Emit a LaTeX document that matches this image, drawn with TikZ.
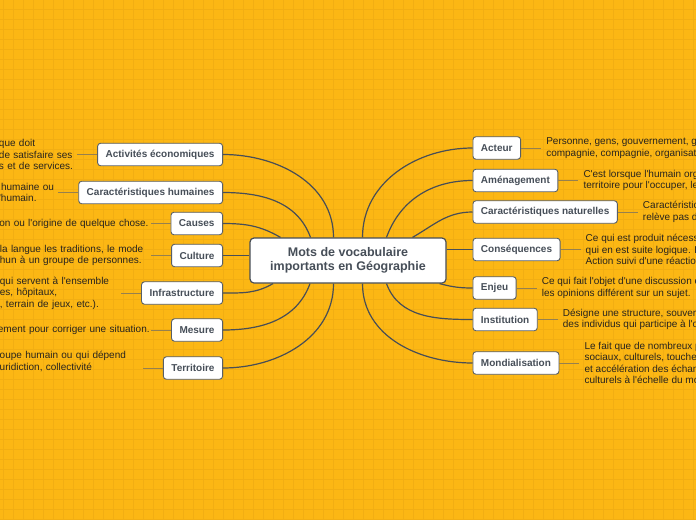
\documentclass[tikz,border=0pt]{standalone}
\usepackage{fontspec}
\setmainfont{Liberation Sans}[Ligatures=TeXOff]
\usepackage{tikz}
\usetikzlibrary{positioning}

\definecolor{bgcol}{RGB}{252,183,20}
\definecolor{gridcol}{RGB}{242,174,19}
\definecolor{boxline}{RGB}{88,95,102}
\definecolor{boxtext}{RGB}{70,78,88}
\definecolor{branchcol}{RGB}{72,78,86}
\definecolor{leafcol}{RGB}{150,128,78}
\definecolor{desctext}{RGB}{40,36,30}

\begin{document}
\begin{tikzpicture}[
  x=1pt, y=-1pt,
  node distance = 20pt,
  topic/.style = {draw=boxline, fill=white, rounded corners=3pt, line width=0.9pt,
                  minimum height=22.5pt, inner xsep=8pt, text=boxtext,
                  font=\fontsize{10}{12}\selectfont\bfseries},
  root/.style  = {draw=branchcol, fill=white, rounded corners=4pt, line width=1.2pt,
                  minimum width=196pt, minimum height=45pt, align=center, text=boxtext,
                  font=\fontsize{12.5}{13.5}\selectfont\bfseries},
  desc/.style  = {font=\fontsize{10}{11.5}\selectfont, text=desctext, align=left,
                  inner ysep=0pt, inner xsep=5pt},
  ldesc/.style = {desc, inner xsep=0pt, text width=#1},
  branch/.style = {draw=branchcol, line width=1.2pt},
  leaf/.style  = {draw=leafcol, line width=1pt}
]
  % background with grid
  \useasboundingbox (0,0) rectangle (696,520);
  \fill[bgcol] (0,0) rectangle (696,520);
  \foreach \gx in {3,13,...,693}
    \draw[gridcol, line width=0.6pt] (\gx,0) -- (\gx,520);
  \foreach \gy in {9,19,...,519}
    \draw[gridcol, line width=0.6pt] (0,\gy) -- (696,\gy);

  \node[root] (mots) at (348,260.5) {Mots de vocabulaire\\importants en Géographie};

  % left side
  \node[topic, anchor=east] (eco) at (223,154.5) {Activités économiques};
  \node[topic, anchor=east] (hum) at (223,192.5) {Caractéristiques humaines};
  \node[topic, anchor=east] (cau) at (223,223.5) {Causes};
  \node[topic, anchor=east] (cul) at (223,255.5) {Culture};
  \node[topic, anchor=east] (inf) at (223,293)   {Infrastructure};
  \node[topic, anchor=east] (mes) at (223,330)   {Mesure};
  \node[topic, anchor=east] (ter) at (223,368)   {Territoire};

  \node[ldesc=78pt, left=of eco] (eco-d) {que doit\\de satisfaire ses\\s et de services.};
  \node[ldesc=59pt, left=of hum] (hum-d) {\hspace*{2pt}humaine ou\\'humain.};
  \node[ldesc=151pt, left=of cau] (cau-d) {on ou l'origine de quelque chose.};
  \node[ldesc=151pt, left=of cul] (cul-d) {la langue les traditions, le mode\\hun à un groupe de personnes.};
  \node[ldesc=121pt, left=of inf] (inf-d) {qui servent à l'ensemble\\es, hôpitaux,\\, terrain de jeux, etc.).};
  \node[ldesc=153pt, left=of mes] (mes-d) {ement pour corriger une situation.};
  \node[ldesc=143pt, left=of ter, yshift=6.5pt] (ter-d) {oupe humain ou qui dépend\\uridiction, collectivité};

  % right side
  \node[topic, anchor=west] (act) at (472.5,148)   {Acteur};
  \node[topic, anchor=west] (ame) at (472.5,180.5) {Aménagement};
  \node[topic, anchor=west] (nat) at (472.5,212)   {Caractéristiques naturelles};
  \node[topic, anchor=west] (con) at (472.5,249.5) {Conséquences};
  \node[topic, anchor=west] (enj) at (472.5,288)   {Enjeu};
  \node[topic, anchor=west] (ins) at (472.5,319.5) {Institution};
  \node[topic, anchor=west] (mon) at (472.5,363)   {Mondialisation};

  \node[desc, right=of act] (act-d) {Personne, gens, gouvernement, g\\compagnie, compagnie, organisat};
  \node[desc, right=of ame] (ame-d) {C'est lorsque l'humain org\\territoire pour l'occuper, le};
  \node[desc, right=of nat] (nat-d) {Caractéristic\\relève pas d};
  \node[desc, right=of con] (con-d) {Ce qui est produit nécess\\qui en est suite logique. L\\Action suivi d'une réactio};
  \node[desc, right=of enj] (enj-d) {Ce qui fait l'objet d'une discussion e\\les opinions différent sur un sujet.};
  \node[desc, right=of ins] (ins-d) {Désigne une structure, souver\\des individus qui participe à l'o};
  \node[desc, right=of mon] (mon-d) {Le fait que de nombreux p\\sociaux, culturels, touche\\et accélération des échan\\culturels à l'échelle du mo};

  % branches from the centre
  \draw[branch] ([xshift=-14.5pt]mots.north) to[out=90,in=0]   (eco.east);
  \draw[branch] ([xshift=-37.5pt]mots.north) to[out=110,in=0]  (hum.east);
  \draw[branch] ([xshift=-67.5pt]mots.north) to[out=150,in=0]  (cau.east);
  \draw[branch] (cul.east) -- (cul.east -| mots.west);
  \draw[branch] ([xshift=-75pt]mots.south)   to[out=210,in=0]  (inf.east);
  \draw[branch] ([xshift=-38pt]mots.south)   to[out=250,in=0]  (mes.east);
  \draw[branch] ([xshift=-14.5pt]mots.south) to[out=270,in=0]  (ter.east);
  \draw[branch] ([xshift=14.5pt]mots.north)  to[out=90,in=180] (act.west);
  \draw[branch] ([xshift=38.5pt]mots.north)  to[out=70,in=180] (ame.west);
  \draw[branch] ([xshift=64.5pt]mots.north)  to[out=30,in=180] (nat.west);
  \draw[branch] (con.west -| mots.east) -- (con.west);
  \draw[branch] ([xshift=-7pt]mots.south east) to[out=-15,in=180] (enj.west);
  \draw[branch] ([xshift=38.5pt]mots.south)  to[out=-70,in=180] (ins.west);
  \draw[branch] ([xshift=14.5pt]mots.south)  to[out=-90,in=180] (mon.west);

  % short links to the definitions
  \draw[leaf] (eco.west) -- (eco.west -| eco-d.east);
  \draw[leaf] (hum.west) -- (hum.west -| hum-d.east);
  \draw[leaf] (cau.west) -- (cau.west -| cau-d.east);
  \draw[leaf] (cul.west) -- (cul.west -| cul-d.east);
  \draw[leaf] (inf.west) -- (inf.west -| inf-d.east);
  \draw[leaf] (mes.west) -- (mes.west -| mes-d.east);
  \draw[leaf] (ter.west) -- (ter.west -| ter-d.east);
  \draw[leaf] (act.east) -- (act-d.west);
  \draw[leaf] (ame.east) -- (ame-d.west);
  \draw[leaf] (nat.east) -- (nat-d.west);
  \draw[leaf] (con.east) -- (con-d.west);
  \draw[leaf] (enj.east) -- (enj-d.west);
  \draw[leaf] (ins.east) -- (ins-d.west);
  \draw[leaf] (mon.east) -- (mon-d.west);
\end{tikzpicture}
\end{document}
